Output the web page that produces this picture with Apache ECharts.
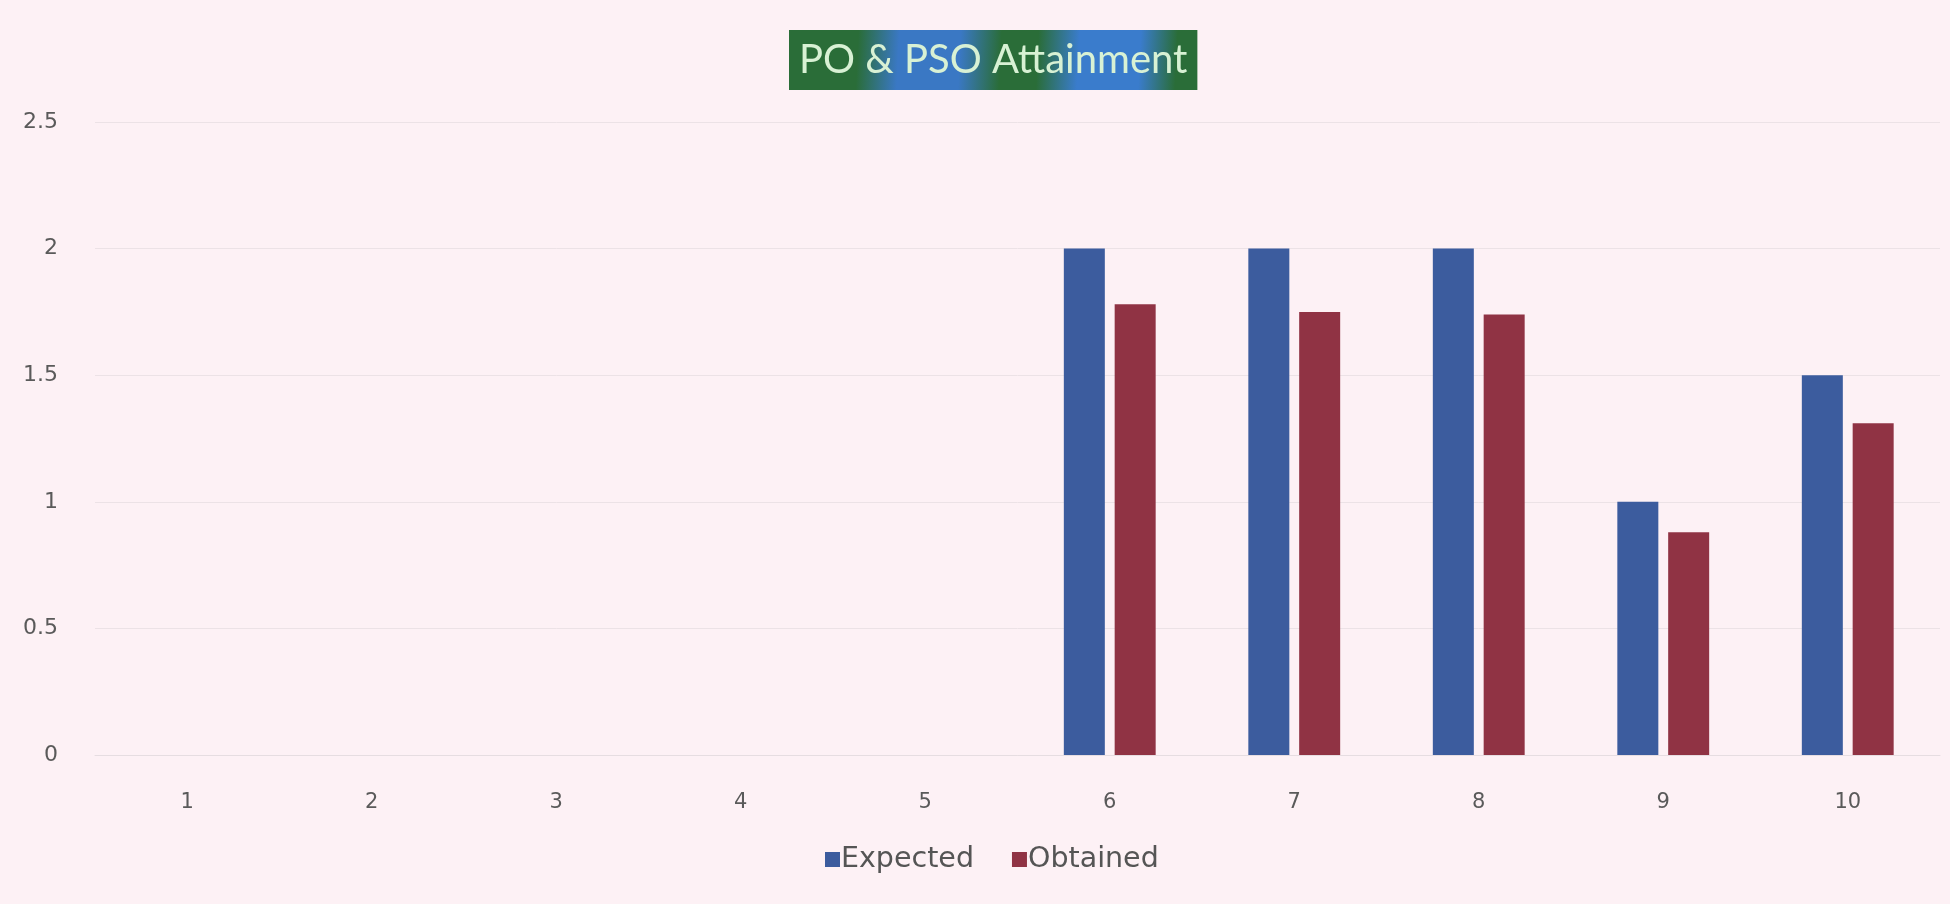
<!DOCTYPE html>
<html>
<head>
<meta charset="utf-8">
<script src="https://cdn.jsdelivr.net/npm/echarts@6/dist/echarts.min.js"></script>
<style>
html,body{margin:0;padding:0;background:#fdf1f5;}
#chart{width:1950px;height:904px;}
</style>
</head>
<body>
<div id="chart"></div>
<script>
var categories = ['1','2','3','4','5','6','7','8','9','10'];
var expected = [0, 0, 0, 0, 0, 2, 2, 2, 1, 1.5];
var obtained = [0, 0, 0, 0, 0, 1.78, 1.75, 1.74, 0.88, 1.31];
var yTicks = [0, 0.5, 1, 1.5, 2, 2.5];
var seriesNames = ['Expected', 'Obtained'];

var chart = echarts.init(document.getElementById('chart'));
chart.setOption({
  backgroundColor: '#fdf1f5',
  animation: false,
  title: {
    text: 'PO & PSO Attainment',
    left: 789,
    top: 30,
    padding: [8, 10, 8, 10],
    backgroundColor: {
      type: 'linear', x: 0, y: 0, x2: 1, y2: 0.35,
      colorStops: [
        {offset: 0, color: '#2a6d38'},
        {offset: 0.17, color: '#2a6d38'},
        {offset: 0.27, color: '#3a78c4'},
        {offset: 0.42, color: '#3a78c4'},
        {offset: 0.52, color: '#2a6d38'},
        {offset: 0.61, color: '#2a6d38'},
        {offset: 0.71, color: '#3a7ccc'},
        {offset: 0.86, color: '#3a7ccc'},
        {offset: 0.95, color: '#2a6d38'},
        {offset: 1, color: '#2a6d38'}
      ]
    },
    textStyle: {
      color: '#d8f1d4',
      fontFamily: 'Lato',
      fontWeight: 'normal',
      fontSize: 40,
      lineHeight: 44
    }
  },
  legend: {
    data: seriesNames,
    left: 820,
    top: 840,
    itemWidth: 15,
    itemHeight: 15,
    itemGap: 38,
    icon: 'rect',
    textStyle: {
      color: '#555555',
      fontFamily: 'DejaVu Sans',
      fontSize: 28.5,
      padding: [0, 0, 0, -4]
    }
  },
  grid: {
    left: 95,
    right: 10,
    top: 122,
    height: 633
  },
  xAxis: {
    type: 'category',
    data: categories,
    axisLine: {show: true, lineStyle: {color: '#e6dde1', width: 1}},
    axisTick: {show: false},
    axisLabel: {
      color: '#5a5a5a',
      fontFamily: 'DejaVu Sans',
      fontSize: 21,
      margin: 37
    }
  },
  yAxis: {
    type: 'value',
    min: yTicks[0],
    max: yTicks[yTicks.length - 1],
    interval: 0.5,
    axisLine: {show: false},
    axisTick: {show: false},
    splitLine: {lineStyle: {color: '#ece2e6', width: 1}},
    axisLabel: {
      color: '#5a5a5a',
      fontFamily: 'DejaVu Sans',
      fontSize: 22,
      margin: 37
    }
  },
  series: [
    {
      name: seriesNames[0],
      type: 'bar',
      data: expected,
      barWidth: 41,
      barGap: '24%',
      itemStyle: {color: '#3c5c9e'}
    },
    {
      name: seriesNames[1],
      type: 'bar',
      data: obtained,
      barWidth: 41,
      barGap: '24%',
      itemStyle: {color: '#903344'}
    }
  ]
});
</script>
</body>
</html>
